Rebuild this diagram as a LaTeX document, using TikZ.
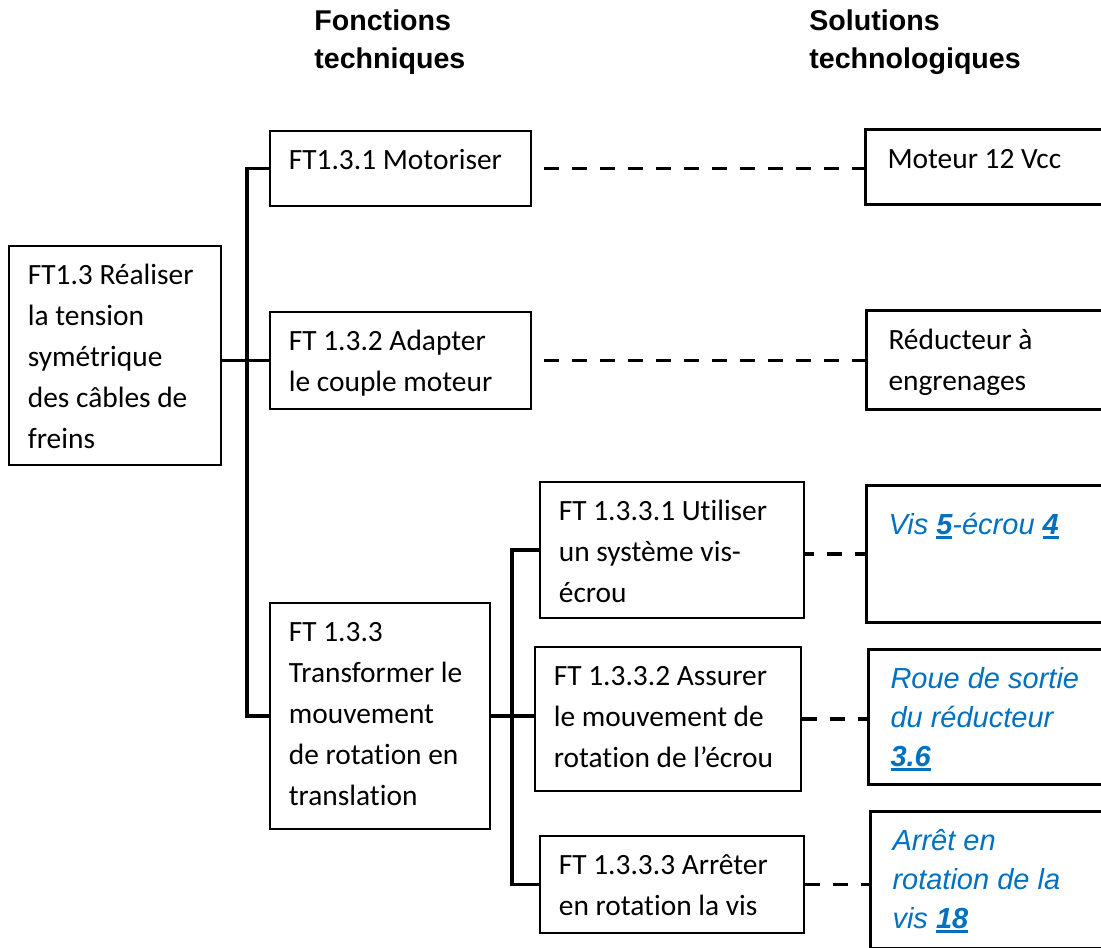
\documentclass[tikz,border=0pt]{standalone}
\usepackage{fontspec}
\setmainfont{Carlito}[Ligatures=NoCommon]
\newfontfamily\arialfont{Liberation Sans}
\definecolor{solblue}{RGB}{0,112,192}

% box texts: [first baseline]{width}{height}{lines}
\newcommand{\ftcell}[4][19.5pt]{\parbox[c][#3][t]{#2}{\raggedright\leftskip=9.5pt\rule{0pt}{#1}#4}}
\newcommand{\solcell}[4][19.5pt]{\parbox[c][#3][t]{#2}{\raggedright\leftskip=11pt\rule{0pt}{#1}#4}}
% part numbers, bold and underlined
\newcommand{\refnum}[1]{\leavevmode\setbox0\hbox{\textbf{#1}}\rlap{\rule[-2.3pt]{\wd0}{1.4pt}}\box0}

\begin{document}
\begin{tikzpicture}[x=0.5pt, y=-0.5pt,
    ftbox/.style={draw, line width=0.85pt, inner sep=0pt, anchor=north west,
        font=\fontsize{14.7pt}{20.5pt}\selectfont},
    solbox/.style={ftbox, line width=1.5pt},
    solref/.style={text=solblue, font=\arialfont\itshape\fontsize{14.5pt}{19.5pt}\selectfont},
    head/.style={inner sep=0pt, anchor=base west,
        font=\arialfont\bfseries\fontsize{14.3pt}{19pt}\selectfont},
    link/.style={line width=1.65pt},
    dlink/.style={link, dash pattern=on 7.5pt off 6.5pt}]

    \useasboundingbox (0,0) rectangle (1101,947);
    \clip (0,0) rectangle (1101,947);

    % --- Column titles ---
    \node[head] (hft) at (314,31) {\parbox[t]{100pt}{Fonctions\\techniques}};
    \node[head] (hsol) at (809,31) {\parbox[t]{130pt}{Solutions\\technologiques}};

    % --- Technical functions ---
    \node[ftbox] (ft13) at (8,245) {\ftcell{106pt}{109.5pt}{FT1.3 Réaliser\\la tension\\symétrique\\des câbles de\\freins}};
    \node[ftbox] (ft131) at (269,130) {\ftcell{130.5pt}{37.5pt}{FT1.3.1 Motoriser}};
    \node[ftbox] (ft132) at (269,311) {\ftcell{130.5pt}{48.5pt}{FT 1.3.2 Adapter\\le couple moteur}};
    \node[ftbox] (ft133) at (269,602) {\ftcell{110pt}{113pt}{FT 1.3.3\\Transformer le\\mouvement\\de rotation en\\translation}};
    \node[ftbox] (ft1331) at (539,481) {\ftcell{132pt}{68pt}{FT 1.3.3.1 Utiliser\\un système vis-\\écrou}};
    \node[ftbox] (ft1332) at (534,646) {\ftcell{133pt}{72pt}{FT 1.3.3.2 Assurer\\le mouvement de\\rotation de l’écrou}};
    \node[ftbox] (ft1333) at (539,835) {\ftcell{132pt}{48.5pt}{FT 1.3.3.3 Arrêter\\en rotation la vis}};

    % --- Technological solutions ---
    \node[solbox] (mot) at (864,128) {\solcell{125pt}{37.5pt}{Moteur 12 Vcc}};
    \node[solbox] (red) at (865,309) {\solcell{125pt}{49.5pt}{Réducteur à\\engrenages}};
    \node[solbox, solref] (vis) at (865,484) {\solcell[24.5pt]{125pt}{68.5pt}{Vis \refnum{5}-écrou \refnum{4}}};
    \node[solbox, solref] (roue) at (867,648) {\solcell{125pt}{67.5pt}{Roue de sortie\\du réducteur\\\refnum{3.6}}};
    \node[solbox, solref] (arret) at (869,810) {\solcell{125pt}{68.5pt}{Arrêt en\\rotation de la\\vis \refnum{18}}};

    % --- Tree links ---
    \coordinate (bus1) at (247,0);
    \coordinate (bus2) at (512,0);
    \draw[link] (ft131.west) -| (bus1 |- ft133.west) -- (ft133.west);
    \draw[link] (ft132.west) -- (ft132.west -| ft13.east);
    \draw[link] (ft1331.west) -| (bus2 |- ft1333.west) -- (ft1333.west);
    \draw[link] (ft133.east) -- (ft133.east -| ft1332.west);

    % --- Function to solution ---
    \draw[dlink, dash phase=8pt] (ft131.east) -- (ft131.east -| mot.west);
    \draw[dlink, dash phase=8pt] (ft132.east) -- (ft132.east -| red.west);
    \draw[dlink, dash phase=3pt] (ft1331.east |- vis.west) -- (vis.west);
    \draw[dlink] (ft1332.east) -- (ft1332.east -| roue.west);
    \draw[dlink] (ft1333.east) -- (ft1333.east -| arret.west);

\end{tikzpicture}
\end{document}
